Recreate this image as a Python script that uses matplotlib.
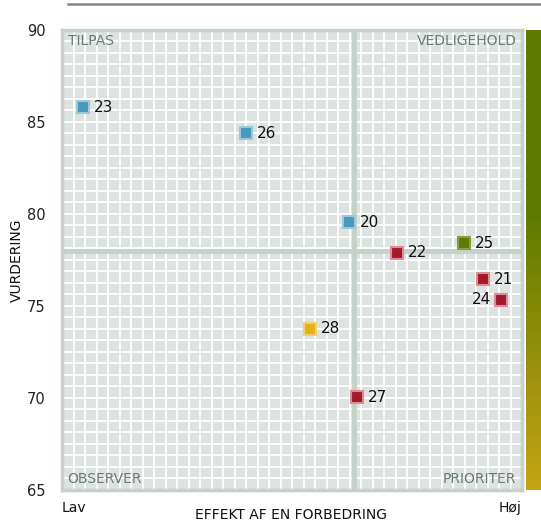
import matplotlib
matplotlib.use("Agg")
import matplotlib.pyplot as plt
import numpy as np
from matplotlib.lines import Line2D
from matplotlib.colors import to_rgb

labels = ["23", "26", "20", "22", "25", "21", "24", "28", "27"]
effect = [4.6, 40.0, 62.4, 72.8, 87.4, 91.5, 95.4, 53.9, 64.1]
rating = [85.8, 84.4, 79.55, 77.9, 78.4, 76.45, 75.35, 73.75, 70.05]
groups = ["blue", "blue", "blue", "red", "green", "red", "red", "yellow", "red"]
label_side = ["right", "right", "right", "right", "right", "right", "left", "right", "right"]
yticks = [65, 70, 75, 80, 85, 90]
quadrants = ["TILPAS", "VEDLIGEHOLD", "OBSERVER", "PRIORITER"]

colors = {"blue": "#4899bd", "red": "#a3192b", "green": "#5f7a00", "yellow": "#e6b21a"}
edges = {"blue": "#9cc8dc", "red": "#dc8c94", "green": "#8aa040", "yellow": "#f0d070"}

plt.rcParams['font.family'] = ['DejaVu Sans']

W, H = 541, 525
fig = plt.figure(figsize=(W / 100, H / 100), dpi=100)
ax = fig.add_axes([62 / W, 35 / H, 460 / W, 460 / H])
ax.set_xlim(0, 100)
ax.set_ylim(65, 90)
ax.set_facecolor("#dce3e0")

# fine grid
for gx in np.arange(2.5, 100, 2.5):
    ax.axvline(gx, color="white", lw=1.3, zorder=1)
for gy in np.arange(65.625, 90, 0.625):
    ax.axhline(gy, color="white", lw=1.3, zorder=1)
# quadrant lines
ax.axvline(63.5, color="#c5d1c9", lw=3.5, zorder=2)
ax.axhline(78, color="#c5d1c9", lw=3.5, zorder=2)

for s in ax.spines.values():
    s.set_color("#c5d1c9")
    s.set_linewidth(2.5)

ax.set_xticks([])
ax.set_yticks(yticks)
ax.set_yticklabels([str(t) for t in yticks], fontsize=10.5, color="#222222")
ax.tick_params(axis="y", length=0, pad=12)

for lab, x, y, g, side in zip(labels, effect, rating, groups, label_side):
    ax.plot(x, y, marker="s", markersize=8, color=colors[g],
            markeredgecolor=edges[g], markeredgewidth=1.5, zorder=5, linestyle="none")
    if side == "right":
        ax.annotate(lab, (x, y), xytext=(8, 0), textcoords="offset points",
                    ha="left", va="center", fontsize=11, color="#111111", zorder=6)
    else:
        ax.annotate(lab, (x, y), xytext=(-7, 0), textcoords="offset points",
                    ha="right", va="center", fontsize=11, color="#111111", zorder=6)

qc = "#6b7a72"
ax.text(0.012, 0.992, quadrants[0], transform=ax.transAxes, ha="left", va="top", fontsize=10, color=qc, zorder=6)
ax.text(0.988, 0.992, quadrants[1], transform=ax.transAxes, ha="right", va="top", fontsize=10, color=qc, zorder=6)
ax.text(0.012, 0.008, quadrants[2], transform=ax.transAxes, ha="left", va="bottom", fontsize=10, color=qc, zorder=6)
ax.text(0.988, 0.008, quadrants[3], transform=ax.transAxes, ha="right", va="bottom", fontsize=10, color=qc, zorder=6)

fig.text(17 / W, 1 - 260 / H, "VURDERING", rotation=90, ha="center", va="center", fontsize=10, color="#111111")
fig.text(291 / W, 1 - 515 / H, "EFFEKT AF EN FORBEDRING", ha="center", va="center", fontsize=10, color="#111111")
fig.text(74 / W, 1 - 508 / H, "Lav", ha="center", va="center", fontsize=10, color="#111111")
fig.text(510 / W, 1 - 508 / H, "Høj", ha="center", va="center", fontsize=10, color="#111111")

# top rule
fig.add_artist(Line2D([68 / W, 1.0], [1 - 4 / H, 1 - 4 / H], color="#7f8b85", lw=1.8))

# right colour bar
cax = fig.add_axes([526 / W, 35 / H, 15 / W, 460 / H])
n = 460
green = np.array(to_rgb("#5f7a00"))
gold = np.array(to_rgb("#c6a414"))
img = np.zeros((n, 1, 3))
split = 183
for i in range(n):
    if i < split:
        img[i, 0] = green
    else:
        t = (i - split) / (n - split)
        img[i, 0] = green * (1 - t) + gold * t
cax.imshow(img, aspect="auto", extent=[0, 1, 0, 1], origin="upper")
cax.set_axis_off()

fig.savefig("out.png", dpi=100)
